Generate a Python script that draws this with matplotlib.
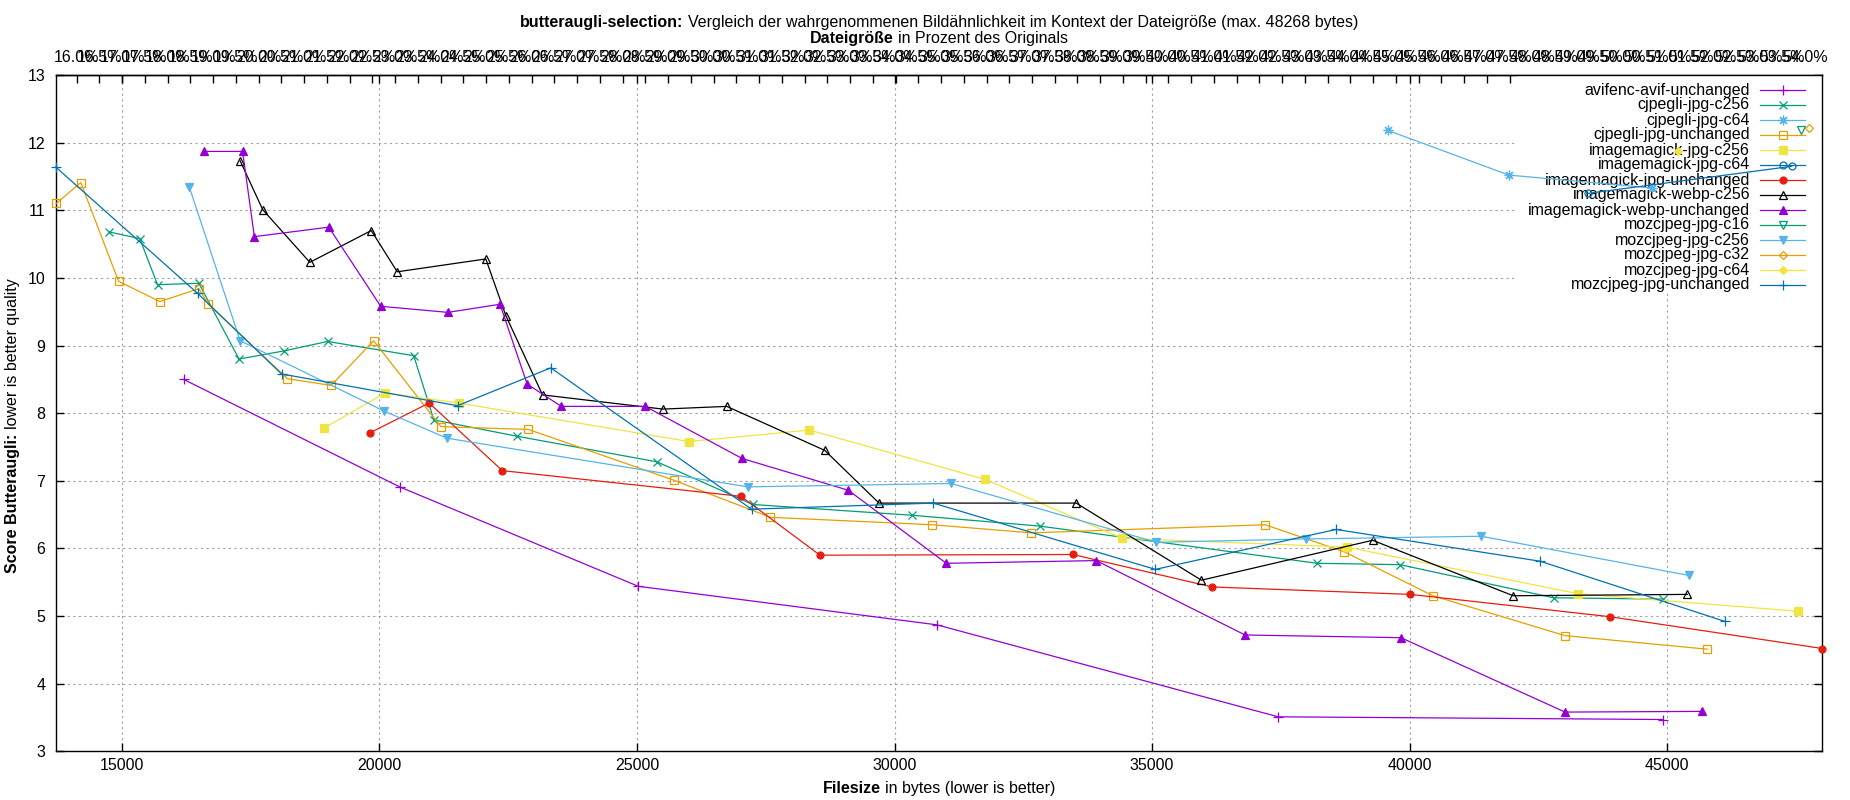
import matplotlib
matplotlib.use("Agg")
import matplotlib.pyplot as plt
import numpy as np
from matplotlib.transforms import IdentityTransform
from matplotlib.patches import Rectangle
from matplotlib.ticker import FuncFormatter, FixedLocator

plt.rcParams['font.family'] = ['Liberation Sans', 'DejaVu Sans']

# ---------------- data (filesize in bytes, butteraugli score) ----------------
x_avifenc = [16200, 20394, 25024, 30822, 37447, 44922]
y_avifenc = [8.50, 6.91, 5.44, 4.87, 3.51, 3.47]

x_cjpegli_c256 = [14755, 15352, 15695, 16498, 17277, 18148, 18996, 20668, 21059, 22663,
                  25390, 27247, 30341, 32817, 38203, 39807, 42792, 44923]
y_cjpegli_c256 = [10.68, 10.58, 9.90, 9.92, 8.80, 8.92, 9.06, 8.85, 7.90, 7.66,
                  7.28, 6.65, 6.49, 6.33, 5.78, 5.76, 5.27, 5.25]

x_cjpegli_c64 = [39579, 41927, 44703]
y_cjpegli_c64 = [12.18, 11.52, 11.33]

x_cjpegli_unch = [13730, 14206, 14939, 15741, 16498, 16681, 18216, 19065, 19890, 21197,
                  22892, 25711, 27591, 30731, 32657, 37194, 38730, 40449, 43016, 45775]
y_cjpegli_unch = [11.10, 11.41, 9.95, 9.65, 9.84, 9.61, 8.51, 8.41, 9.07, 7.80,
                  7.76, 7.01, 6.46, 6.35, 6.23, 6.35, 5.95, 5.30, 4.71, 4.51]

x_im_jpg_c256 = [18928, 20119, 21540, 26009, 28347, 31762, 34420, 38776, 43268, 47543]
y_im_jpg_c256 = [7.78, 8.30, 8.15, 7.58, 7.75, 7.02, 6.15, 6.02, 5.33, 5.07]

x_im_jpg_c64 = [43464, 47415]
y_im_jpg_c64 = [11.25, 11.65]

x_im_jpg_unch = [19821, 20967, 22388, 27018, 28554, 33459, 36163, 40014, 43887, 48008]
y_im_jpg_unch = [7.71, 8.15, 7.15, 6.77, 5.90, 5.91, 5.43, 5.32, 4.99, 4.52]

x_im_webp_c256 = [17300, 17736, 18652, 19844, 20348, 22067, 22457, 23168, 25505, 26743,
                  28645, 29700, 33527, 35957, 39280, 42008, 45388]
y_im_webp_c256 = [11.73, 11.01, 10.23, 10.70, 10.09, 10.28, 9.44, 8.27, 8.06, 8.10,
                  7.45, 6.67, 6.67, 5.53, 6.12, 5.30, 5.32]

x_im_webp_unch = [16590, 17346, 17575, 19019, 20027, 21333, 22343, 22870, 23534, 25162,
                  27041, 29104, 31005, 33916, 36804, 39829, 43015, 45678]
y_im_webp_unch = [11.87, 11.87, 10.61, 10.75, 9.58, 9.49, 9.61, 8.43, 8.10, 8.10,
                  7.33, 6.86, 5.78, 5.82, 4.72, 4.68, 3.58, 3.59]

x_moz_c16 = [47595]
y_moz_c16 = [12.19]

x_moz_c256 = [16314, 17300, 20096, 21311, 27155, 31097, 35085, 37996, 41388, 45422]
y_moz_c256 = [11.34, 9.07, 8.03, 7.63, 6.91, 6.96, 6.09, 6.14, 6.18, 5.60]

x_moz_c32 = [47750]
y_moz_c32 = [12.22]

x_moz_c64 = [45214]
y_moz_c64 = [11.88]

x_moz_unch = [13719, 16475, 18102, 21518, 23328, 27225, 30753, 35062, 38570, 42535, 46120]
y_moz_unch = [11.64, 9.77, 8.58, 8.11, 8.67, 6.58, 6.67, 5.69, 6.28, 5.81, 4.92]

names = ["avifenc-avif-unchanged", "cjpegli-jpg-c256", "cjpegli-jpg-c64", "cjpegli-jpg-unchanged",
         "imagemagick-jpg-c256", "imagemagick-jpg-c64", "imagemagick-jpg-unchanged",
         "imagemagick-webp-c256", "imagemagick-webp-unchanged", "mozcjpeg-jpg-c16",
         "mozcjpeg-jpg-c256", "mozcjpeg-jpg-c32", "mozcjpeg-jpg-c64", "mozcjpeg-jpg-unchanged"]
xs = [x_avifenc, x_cjpegli_c256, x_cjpegli_c64, x_cjpegli_unch, x_im_jpg_c256, x_im_jpg_c64,
      x_im_jpg_unch, x_im_webp_c256, x_im_webp_unch, x_moz_c16, x_moz_c256, x_moz_c32,
      x_moz_c64, x_moz_unch]
ys = [y_avifenc, y_cjpegli_c256, y_cjpegli_c64, y_cjpegli_unch, y_im_jpg_c256, y_im_jpg_c64,
      y_im_jpg_unch, y_im_webp_c256, y_im_webp_unch, y_moz_c16, y_moz_c256, y_moz_c32,
      y_moz_c64, y_moz_unch]

colors = ["#9400d3", "#009e73", "#56b4e9", "#e69f00", "#f0e442", "#0072b2", "#e51e10",
          "#000000", "#9400d3", "#009e73", "#56b4e9", "#e69f00", "#f0e442", "#0072b2"]
# (marker, filled, size)
markers = [("+", True, 7), ("x", True, 5.5), ((8, 2, 0), True, 7), ("s", False, 5.5),
           ("s", True, 5.5), ("o", False, 5), ("o", True, 5), ("^", False, 6),
           ("^", True, 6), ("v", False, 6), ("v", True, 6), ("D", False, 4.5),
           ("D", True, 4.5), ("+", True, 7)]

x_ticks = [15000, 20000, 25000, 30000, 35000, 40000, 45000]
y_ticks = [3, 4, 5, 6, 7, 8, 9, 10, 11, 12, 13]
pct_ticks = list(np.arange(16.0, 54.01, 0.5))
X_MIN, X_MAX = 13719, 48008
ORIGINAL_BYTES = 88294

# ---------------- figure ----------------
W, H = 1850, 800
FS = 11.5
fig = plt.figure(figsize=(W / 100, H / 100), dpi=100)
AX_L, AX_R, AX_T, AX_B = 55.7, 1822.3, 75.0, 751.3
ax = fig.add_axes([AX_L / W, (H - AX_B) / H, (AX_R - AX_L) / W, (AX_B - AX_T) / H])

ax.set_xlim(X_MIN, X_MAX)
ax.set_ylim(3, 13)
ax.set_xticks(x_ticks)
ax.set_xticklabels([str(v) for v in x_ticks])
ax.set_yticks(y_ticks)
ax.set_yticklabels([str(v) for v in y_ticks])
ax.tick_params(direction='in', length=6, width=1, top=True, right=True, labelsize=FS,
               colors='black')
ax.tick_params(axis='x', pad=5)
ax.tick_params(axis='y', pad=7.5)
for sp in ax.spines.values():
    sp.set_linewidth(1.0)

ax.set_axisbelow(True)
ax.grid(True, color='#a0a0a0', linewidth=0.8, linestyle=(0, (2, 3)))
# key area keeps the grid out
ax.add_patch(Rectangle((0.8272, 0.6777), 0.1728, 0.3223, transform=ax.transAxes,
                       facecolor='white', edgecolor='none', zorder=1))

for x, y, c, (m, filled, ms) in zip(xs, ys, colors, markers):
    ax.plot(x, y, color=c, linewidth=0.9, marker=m, markersize=ms,
            markerfacecolor=(c if filled else 'none'), markeredgecolor=c,
            markeredgewidth=0.9, zorder=3, clip_on=False)

# top percentage axis (share of the original file size)
sec = ax.secondary_xaxis('top', functions=(lambda b: np.asarray(b) * 100.0 / ORIGINAL_BYTES,
                                           lambda p: np.asarray(p) * ORIGINAL_BYTES / 100.0))
sec.xaxis.set_major_locator(FixedLocator(pct_ticks))
sec.xaxis.set_major_formatter(FuncFormatter(lambda v, pos: "%.1f%%" % v))
sec.tick_params(direction='in', length=6, width=1, labelsize=FS, pad=6.9)
sec.spines['top'].set_linewidth(1.0)

# legend (key)
row0 = (AX_B - 90) / (AX_B - AX_T)
step = 15 / (AX_B - AX_T)
xt = (1750 - AX_L) / (AX_R - AX_L)
xl0 = (1760 - AX_L) / (AX_R - AX_L)
xl1 = (1805 - AX_L) / (AX_R - AX_L)
xm = (1783 - AX_L) / (AX_R - AX_L)
for i, (nm, c, (m, filled, ms)) in enumerate(zip(names, colors, markers)):
    yy = row0 - i * step
    ax.text(xt, yy, nm, transform=ax.transAxes, ha='right', va='center', fontsize=FS, zorder=2)
    ax.plot([xl0, xl1], [yy, yy], transform=ax.transAxes, color=c, linewidth=0.9,
            clip_on=False, zorder=3)
    ax.plot([xm], [yy], transform=ax.transAxes, color=c, marker=m, markersize=ms,
            markerfacecolor=(c if filled else 'none'), markeredgecolor=c,
            markeredgewidth=0.9, clip_on=False, zorder=3)

# mixed bold / regular texts
renderer = fig.canvas.get_renderer()


def mixed(parts, cx, cy, rotation=0, size=FS):
    widths = []
    for s, w in parts:
        t = fig.text(0, 0, s, fontsize=size, fontweight=w, transform=IdentityTransform())
        widths.append(t.get_window_extent(renderer).width)
        t.remove()
    space = 0.278 * size * fig.dpi / 72
    total = sum(widths) + space * (len(parts) - 1)
    pos = -total / 2
    for (s, w), wd in zip(parts, widths):
        if rotation == 0:
            fig.text(cx + pos, cy, s, fontsize=size, fontweight=w, ha='left', va='baseline',
                     transform=IdentityTransform())
        else:
            fig.text(cx, cy + pos, s, fontsize=size, fontweight=w, ha='left', va='baseline',
                     rotation=90, rotation_mode='anchor', transform=IdentityTransform())
        pos += wd + space


CX = (AX_L + AX_R) / 2
mixed([("butteraugli-selection:", 'bold'),
       ("Vergleich der wahrgenommenen Bildähnlichkeit im Kontext der Dateigröße (max. 48268 bytes)", 'normal')],
      CX, H - 27)
mixed([("Dateigröße", 'bold'), ("in Prozent des Originals", 'normal')], CX, H - 42.5)
mixed([("Filesize", 'bold'), ("in bytes (lower is better)", 'normal')], CX, H - 793)
mixed([("Score Butteraugli:", 'bold'), ("lower is better quality", 'normal')], 17.5, H - 426,
      rotation=90)

fig.savefig("out.png", dpi=100)
